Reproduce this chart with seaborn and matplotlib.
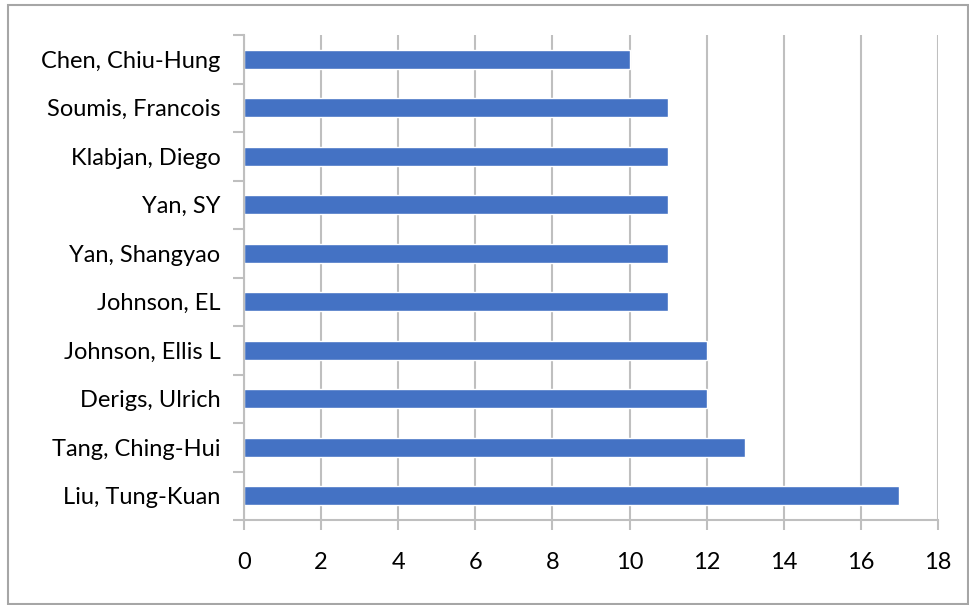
import matplotlib
matplotlib.use("Agg")
import matplotlib.pyplot as plt
import seaborn as sns
import pandas as pd
from matplotlib.patches import Rectangle

# Authors and publication counts (top to bottom)
authors = ["Chen, Chiu-Hung", "Soumis, Francois", "Klabjan, Diego", "Yan, SY",
           "Yan, Shangyao", "Johnson, EL", "Johnson, Ellis L", "Derigs, Ulrich",
           "Tang, Ching-Hui", "Liu, Tung-Kuan"]
counts = [10, 11, 11, 11, 11, 11, 12, 12, 13, 17]
x_ticks = [0, 2, 4, 6, 8, 10, 12, 14, 16, 18]

df = pd.DataFrame({"author": authors, "count": counts})

sns.set_style("white")
plt.rcParams["font.family"] = ["Lato", "DejaVu Sans"]

grid_col = "#BFBFBF"
fig = plt.figure(figsize=(9.7, 6.05), dpi=100)
ax = fig.add_axes([244 / 970, 1 - 520 / 605, (938 - 244) / 970, (520 - 35) / 605])

sns.barplot(data=df, x="count", y="author", order=authors, orient="h",
            color="#4472C4", saturation=1, width=0.4, ax=ax)

ax.set_xlim(0, 18)
ax.set_ylim(len(authors) - 0.5, -0.5)
ax.set_xticks(x_ticks)
ax.set_xlabel("")
ax.set_ylabel("")
ax.set_axisbelow(True)
ax.xaxis.grid(True, color=grid_col, linewidth=1.5)

for s in ["top", "right"]:
    ax.spines[s].set_visible(False)
for s in ["left", "bottom"]:
    ax.spines[s].set_color(grid_col)
    ax.spines[s].set_linewidth(1.5)

# left ticks at category boundaries
ax.set_yticks([i - 0.5 for i in range(len(authors) + 1)], minor=True)
ax.tick_params(axis="y", which="minor", left=True, length=8, width=1.5,
               color=grid_col, direction="out")
ax.tick_params(axis="y", which="major", left=False, length=0, pad=17,
               labelsize=17, labelcolor="black")
ax.tick_params(axis="x", which="major", bottom=True, length=7, width=1.5,
               color=grid_col, direction="out", pad=16, labelsize=17,
               labelcolor="black")

# outer chart border
fig.patches.append(Rectangle((8 / 970, 1 - 604 / 605), 960 / 970, 599 / 605,
                             transform=fig.transFigure, fill=False,
                             edgecolor="#A6A6A6", linewidth=1.5))

fig.savefig("out.png", dpi=100)
